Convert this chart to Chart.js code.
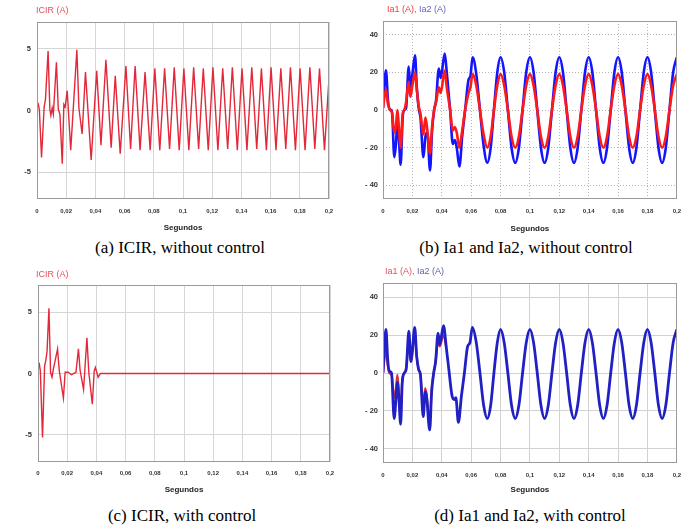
<!DOCTYPE html>
<html>
<head>
<meta charset="utf-8">
<script src="https://cdn.jsdelivr.net/npm/chart.js@4"></script>
<style>
  body { margin: 0; background: #fff; width: 690px; height: 529px; position: relative; overflow: hidden; }
  canvas { position: absolute; }
  .cap { position: absolute; width: 360px; text-align: center; font: 17px "Liberation Serif", serif; color: #000; }
</style>
</head>
<body>
<canvas id="chA" width="345" height="235" style="left:0;top:0"></canvas>
<canvas id="chB" width="345" height="235" style="left:345px;top:0"></canvas>
<canvas id="chC" width="345" height="235" style="left:0;top:260px"></canvas>
<canvas id="chD" width="345" height="235" style="left:345px;top:260px"></canvas>
<div class="cap" style="left:0;top:238px">(a) ICIR, without control</div>
<div class="cap" style="left:346px;top:238px">(b) Ia1 and Ia2, without control</div>
<div class="cap" style="left:2px;top:506px">(c) ICIR, with control</div>
<div class="cap" style="left:350px;top:506px">(d) Ia1 and Ia2, with control</div>
<script>
// axes
const xTicks = [0, 0.02, 0.04, 0.06, 0.08, 0.1, 0.12, 0.14, 0.16, 0.18, 0.2];
const xTickLabels = ["0", "0,02", "0,04", "0,06", "0,08", "0,1", "0,12", "0,14", "0,16", "0,18", "0,2"];
const icirTicks = [-5, 0, 5];
const icirTickLabels = ["-5", "0", "5"];
const iaTicks = [-40, -20, 0, 20, 40];
const iaTickLabels = ["- 40", "- 20", "0", "20", "40"];

// (a) ICIR without control
const icirTimeA = [0, 0.0009, 0.0016, 0.0031, 0.0049, 0.0058, 0.0076, 0.0088, 0.0095, 0.0104,
  0.0112, 0.0133, 0.0146, 0.0157, 0.0173, 0.0184, 0.0193, 0.0207, 0.0231, 0.0273,
  0.0287, 0.0309, 0.0332, 0.0371, 0.0409, 0.0438, 0.0472, 0.0508, 0.0536, 0.057,
  0.0609, 0.0641, 0.0672, 0.0706, 0.074, 0.0775,
  0.0807, 0.0841, 0.0874, 0.0908, 0.094, 0.0974, 0.1006, 0.104, 0.1073, 0.1107,
  0.1139, 0.1173, 0.1205, 0.1239, 0.1272, 0.1306, 0.1338, 0.1372, 0.1404, 0.1438,
  0.1471, 0.1505, 0.1537, 0.1571, 0.1603, 0.1637, 0.167, 0.1704, 0.1736, 0.177,
  0.1802, 0.1836, 0.1869, 0.1903, 0.1935, 0.1969, 0.2];
const icirValA = [0.3, 0.5, 0.1, -3.8, 0.3, 0.9, 4.8, 0.1, -0.4, 0.2,
  -0.3, 3.9, 0.1, -0.3, -4.3, 0.5, 0.3, 1.6, -3.2, 4.9,
  0.2, -1.9, 3.1, -4.0, 3.2, -2.8, 4.1, -3.0, 2.8, -3.5,
  3.6, -3.1, 3.6, -3.2, 3.1, -3.2,
  3.4, -3.2, 3.4, -3.1, 3.5, -3.2, 3.4, -3.2, 3.5, -3.1,
  3.4, -3.2, 3.5, -3.2, 3.4, -3.1, 3.5, -3.2, 3.4, -3.2,
  3.5, -3.1, 3.4, -3.2, 3.5, -3.2, 3.4, -3.1, 3.5, -3.2,
  3.4, -3.2, 3.5, -3.1, 3.4, -3.2, 2.6];

// (c) ICIR with control
const icirTimeC = [0, 0.0009, 0.0016, 0.0031, 0.0045, 0.0054, 0.0062, 0.0075, 0.0086, 0.0096,
  0.0106, 0.0134, 0.0145, 0.0174, 0.0186, 0.0207, 0.0229, 0.026, 0.0277, 0.0288,
  0.0312, 0.0335, 0.0348, 0.0372, 0.0385, 0.0393, 0.0412, 0.0428, 0.045, 0.2];
const icirValC = [0.7, 0.8, 0.2, -5.2, 0.6, 1.1, 1.8, 5.3, 0.1, -0.3,
  0.4, 2.0, 0.3, -2.0, 0.1, 0.1, -0.1, 0.1, 2.0, 0.3,
  -1.3, 2.9, 0.1, -2.5, 0.2, 0.5, -0.3, 0, 0, 0];

// steady part shared by (b) and (d)
const steadyTime = [0.0635, 0.066, 0.0685, 0.071, 0.0733, 0.0755, 0.0778, 0.08,
  0.0825, 0.085, 0.0875, 0.09, 0.0925, 0.095, 0.0975, 0.1,
  0.1025, 0.105, 0.1075, 0.11, 0.1125, 0.115, 0.1175, 0.12,
  0.1225, 0.125, 0.1275, 0.13, 0.1325, 0.135, 0.1375, 0.14,
  0.1425, 0.145, 0.1475, 0.15, 0.1525, 0.155, 0.1575, 0.16,
  0.1625, 0.165, 0.1675, 0.17, 0.1725, 0.175, 0.1775, 0.18,
  0.1825, 0.185, 0.1875, 0.19, 0.1925, 0.195, 0.1975, 0.2];

// (b) Ia1 / Ia2 without control
const transTimeB = [0, 0.002, 0.0034, 0.0048, 0.006, 0.0077, 0.0088, 0.0098, 0.0108, 0.012,
  0.0134, 0.0145, 0.0157, 0.0175, 0.0186, 0.02, 0.0218, 0.023, 0.0243, 0.0255,
  0.0275, 0.0289, 0.0302, 0.032, 0.0334, 0.0348, 0.0361, 0.038, 0.0393, 0.042,
  0.0434, 0.0457, 0.0475, 0.0489, 0.0502, 0.052, 0.0539, 0.0559, 0.0582, 0.0595, 0.061];
const ia1ValB = [1, 11, 3, 0, -1, -12, -9, 0, -9, -20,
  -2, 0, 4, 15, 7, 13, 20, 11, 2, -2,
  -13, -4, -11, -23, -9, 0, 4, 12, 9, 21,
  12, 0, -11, -9, -12, -20, -11, 0, 9, 12, 19,
  13, 0, -13, -20, -14, 0, 13, 19,
  13, 0, -14, -20, -14, 0, 13, 19,
  13, 0, -14, -20, -14, 0, 13, 19,
  13, 0, -14, -20, -14, 0, 13, 19,
  13, 0, -14, -20, -14, 0, 13, 19,
  13, 0, -14, -20, -14, 0, 13, 19,
  13, 0, -14, -20, -14, 0, 13, 19];
const ia2ValB = [1, 21, 5, 0, 0, -25, -18, -7, -15, -29,
  -4, 0, 1, 23, 12, 19, 29, 12, 1, -4,
  -25, -14, -12, -32, -11, 0, 5, 22, 17, 30,
  20, 0, -18, -16, -20, -30, -14, 0, 16, 18, 28,
  19, 0, -19, -28, -20, 0, 20, 28,
  20, 0, -20, -28, -20, 0, 20, 28,
  20, 0, -20, -28, -20, 0, 20, 28,
  20, 0, -20, -28, -20, 0, 20, 28,
  20, 0, -20, -28, -20, 0, 20, 28,
  20, 0, -20, -28, -20, 0, 20, 28,
  20, 0, -20, -28, -20, 0, 20, 28];

// (d) Ia1 / Ia2 with control
const transTimeD = [0, 0.002, 0.0032, 0.0043, 0.0058, 0.0076, 0.0088, 0.0098, 0.0108, 0.012,
  0.0131, 0.0145, 0.0158, 0.0176, 0.019, 0.0198, 0.0216, 0.0229, 0.0242, 0.0255,
  0.0274, 0.0287, 0.0296, 0.0318, 0.0331, 0.0345, 0.0358, 0.0375, 0.0386, 0.0412,
  0.043, 0.0448, 0.047, 0.0485, 0.0496, 0.0513, 0.0534, 0.0554, 0.0576, 0.0592, 0.0608];
const ia1ValD = [0, 12, 4, 0, -1, -13, -8, -1, -10, -22,
  -4, 0, 3, 17, 6, 10, 22, 9, 2, -1,
  -19, -8, -11, -26, -9, 0, 6, 17, 14, 20, 14];
const ia2ValD = [0, 23, 7, 1, 0, -24, -14, -5, -13, -27,
  -5, 0, 2, 22, 6, 10, 24, 9, 2, -1,
  -23, -10, -12, -30, -10, 0, 6, 21, 15, 25,
  14, 2, -12, -14, -13, -26, -12, 0, 14, 16, 24,
  16, 0, -17, -24, -17, 0, 16, 23,
  16, 0, -17, -24, -17, 0, 16, 23,
  16, 0, -17, -24, -17, 0, 16, 23,
  16, 0, -17, -24, -17, 0, 16, 23,
  16, 0, -17, -24, -17, 0, 16, 23,
  16, 0, -17, -24, -17, 0, 16, 23,
  16, 0, -17, -24, -17, 0, 16, 23];

const timeB = transTimeB.concat(steadyTime);
const timeD = transTimeD.concat(steadyTime);

function pts(times, vals) {
  return vals.map((v, i) => ({ x: times[i], y: v }));
}

// frame round the plot and the coloured title above it
const framePlugin = {
  id: "frame",
  afterDraw(chart, args, opts) {
    const { ctx, chartArea: a } = chart;
    ctx.save();
    ctx.strokeStyle = opts.color;
    ctx.lineWidth = 1;
    ctx.strokeRect(Math.round(a.left) + 0.5, Math.round(a.top) + 0.5,
      Math.round(a.right - a.left) - 1, Math.round(a.bottom - a.top) - 1);
    ctx.font = '9px "Liberation Sans", Arial, sans-serif';
    ctx.textBaseline = "middle";
    let x = opts.titleX;
    opts.title.forEach((p) => {
      ctx.fillStyle = p.color;
      ctx.fillText(p.text, x, opts.titleY);
      x += ctx.measureText(p.text).width;
    });
    ctx.restore();
  },
};

function makeChart(id, cfg) {
  const ctx = document.getElementById(id).getContext("2d");
  return new Chart(ctx, {
    type: "line",
    data: { datasets: cfg.datasets },
    options: {
      responsive: false,
      animation: false,
      events: [],
      layout: { padding: { top: cfg.top, right: cfg.right, left: 0, bottom: 0 } },
      elements: { point: { radius: 0 } },
      plugins: {
        legend: { display: false },
        tooltip: { enabled: false },
        frame: { color: "#9a9a9a", title: cfg.title, titleX: cfg.titleX, titleY: cfg.titleY },
      },
      scales: {
        x: {
          type: "linear",
          min: 0,
          max: 0.2,
          afterBuildTicks: (s) => { s.ticks = xTicks.map((v) => ({ value: v })); },
          afterFit: (s) => { s.height = cfg.xH; },
          grid: { color: cfg.gridColor, drawTicks: false },
          border: { display: false, dash: cfg.dash },
          ticks: {
            autoSkip: false, maxRotation: 0, padding: cfg.xPad, color: "#333",
            font: { family: "Liberation Sans", size: 6, weight: "bold" },
            callback: (v, i) => xTickLabels[i],
          },
          title: {
            display: true, text: "Segundos", color: "#222",
            font: { family: "Liberation Sans", size: 8, weight: "bold" },
            padding: { top: 0, bottom: cfg.segPad },
          },
        },
        y: {
          min: cfg.yMin,
          max: cfg.yMax,
          afterBuildTicks: (s) => { s.ticks = cfg.yTicks.map((v) => ({ value: v })); },
          afterFit: (s) => { s.width = cfg.yW; },
          grid: { color: cfg.gridColor, drawTicks: false },
          border: { display: false, dash: cfg.dash },
          ticks: {
            padding: cfg.yPad, color: "#333",
            font: { family: "Liberation Sans", size: 7.5, weight: "bold" },
            callback: (v, i) => cfg.yLabels[i],
          },
        },
      },
    },
    plugins: [framePlugin],
  });
}

makeChart("chA", {
  top: 22, right: 16, yW: 37, xH: 36, xPad: 9, yPad: 6, segPad: 2,
  yMin: -7.15, yMax: 7.15, yTicks: icirTicks, yLabels: icirTickLabels,
  gridColor: "#d6d6d6", dash: [],
  titleX: 36, titleY: 11,
  title: [{ text: "ICIR (A)", color: "#e4505a" }],
  datasets: [{ data: pts(icirTimeA, icirValA), borderColor: "#e3283a", borderWidth: 1.4, tension: 0 }],
});

makeChart("chB", {
  top: 21, right: 10, yW: 38, xH: 36, xPad: 9, yPad: 5, segPad: 1,
  yMin: -47.2, yMax: 47.2, yTicks: iaTicks, yLabels: iaTickLabels,
  gridColor: "#b4b4b4", dash: [1, 2],
  titleX: 42, titleY: 10,
  title: [{ text: "Ia1 (A)", color: "#f03a3a" }, { text: ", ", color: "#6a6a9a" }, { text: "Ia2 (A)", color: "#6464c0" }],
  datasets: [
    { data: pts(timeB, ia1ValB), borderColor: "#ff1a1a", borderWidth: 2.6, cubicInterpolationMode: "monotone" },
    { data: pts(timeB, ia2ValB), borderColor: "#1414ff", borderWidth: 2.6, cubicInterpolationMode: "monotone" },
  ],
});

makeChart("chC", {
  top: 25, right: 15, yW: 38, xH: 33, xPad: 8, yPad: 6, segPad: 0,
  yMin: -7.2, yMax: 7.2, yTicks: icirTicks, yLabels: icirTickLabels,
  gridColor: "#d6d6d6", dash: [],
  titleX: 36, titleY: 15,
  title: [{ text: "ICIR (A)", color: "#e4505a" }],
  datasets: [{ data: pts(icirTimeC, icirValC), borderColor: "#e3283a", borderWidth: 1.4, tension: 0 }],
});

makeChart("chD", {
  top: 23, right: 8, yW: 38, xH: 32, xPad: 9, yPad: 5, segPad: 0,
  yMin: -47.4, yMax: 47.4, yTicks: iaTicks, yLabels: iaTickLabels,
  gridColor: "#d2d2d2", dash: [],
  titleX: 40, titleY: 12,
  title: [{ text: "Ia1 (A)", color: "#e0505e" }, { text: ", ", color: "#6a6a9a" }, { text: "Ia2 (A)", color: "#5a64a8" }],
  datasets: [
    { data: pts(timeD, ia2ValD), borderColor: "#2020c4", borderWidth: 2.8, cubicInterpolationMode: "monotone" },
    { data: pts(transTimeD, ia1ValD), borderColor: "#d8303c", borderWidth: 2.2, cubicInterpolationMode: "monotone" },
  ],
});
</script>
</body>
</html>
